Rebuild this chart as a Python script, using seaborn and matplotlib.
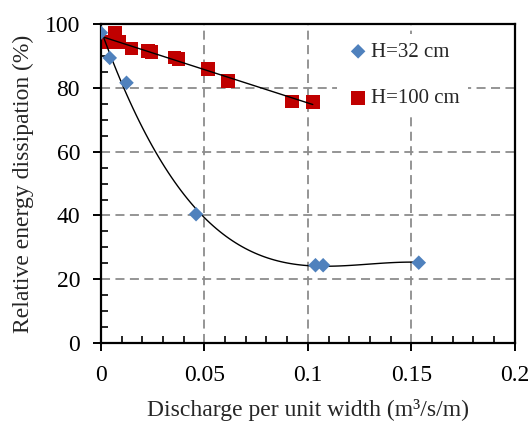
import numpy as np
import pandas as pd
import matplotlib
matplotlib.use("Agg")
import matplotlib.pyplot as plt
import seaborn as sns
from matplotlib.ticker import MultipleLocator

# Data
q32 = [0.000, 0.0043, 0.0124, 0.046, 0.1037, 0.1074, 0.1536]
e32 = [97.3, 89.4, 81.6, 40.4, 24.4, 24.4, 25.2]

q100 = [0.0015, 0.0035, 0.0068, 0.0090, 0.0148, 0.0227, 0.0245, 0.0355, 0.0375, 0.0519, 0.0615, 0.0923, 0.1024]
e100 = [94.5, 94.2, 97.2, 94.4, 92.4, 91.5, 91.2, 89.5, 89.1, 85.9, 82.2, 75.8, 75.6]

xticks = [0, 0.05, 0.1, 0.15, 0.2]
xticklabels = ["0", "0.05", "0.1", "0.15", "0.2"]
yticks = [0, 20, 40, 60, 80, 100]

df32 = pd.DataFrame({"q": q32, "e": e32})
df100 = pd.DataFrame({"q": q100, "e": e100})

sns.set_theme(style="white")
plt.rcParams["font.family"] = ["Liberation Serif", "DejaVu Serif"]

fig = plt.figure(figsize=(5.28, 4.23), dpi=100)
ax = fig.add_axes([0.191, 0.189, 0.784, 0.754])

blue = "#4F81BD"
red = "#C00000"

# trend lines
sns.regplot(data=df32, x="q", y="e", order=3, scatter=False, ci=None, ax=ax,
            line_kws=dict(color="black", lw=1.0, zorder=3))
sns.regplot(data=df100, x="q", y="e", order=1, scatter=False, ci=None, ax=ax,
            line_kws=dict(color="black", lw=1.0, zorder=3))

sns.scatterplot(data=df32, x="q", y="e", marker="D", s=55, color=blue,
                edgecolor="none", ax=ax, label="H=32 cm", zorder=4)
sns.scatterplot(data=df100, x="q", y="e", marker="s", s=95, color=red,
                edgecolor="none", ax=ax, label="H=100 cm", zorder=2)

ax.set_xlim(0, 0.2)
ax.set_ylim(0, 100)
ax.set_xticks(xticks)
ax.set_xticklabels(xticklabels)
ax.set_yticks(yticks)
ax.xaxis.set_minor_locator(MultipleLocator(0.01))
ax.yaxis.set_minor_locator(MultipleLocator(5))

ax.grid(True, which="major", color="#8c8c8c", linestyle=(0, (5, 3)), lw=1.3)
ax.set_axisbelow(True)

for s in ax.spines.values():
    s.set_color("black")
    s.set_linewidth(1.6)

ax.tick_params(axis="both", which="major", direction="out", length=6, width=1.4,
               labelsize=17, colors="black", bottom=True, left=True)
ax.tick_params(axis="x", which="major", pad=10)
ax.tick_params(axis="y", which="major", pad=9)
ax.tick_params(axis="both", which="minor", direction="in", length=5, width=1.4,
               bottom=True, left=True)

ax.set_xlabel("Discharge per unit width (m³/s/m)", fontsize=17, labelpad=9)
ax.set_ylabel("Relative energy dissipation (%)", fontsize=17, labelpad=8)

leg = ax.legend(loc="upper left", bbox_to_anchor=(0.546, 1.002), frameon=True,
                fontsize=15, labelspacing=1.3, handletextpad=0.0, markerscale=1.0,
                handlelength=1.2, facecolor="white", edgecolor="none",
                framealpha=1.0, fancybox=False)
leg.set_zorder(5)

fig.savefig("out.png", dpi=100)
